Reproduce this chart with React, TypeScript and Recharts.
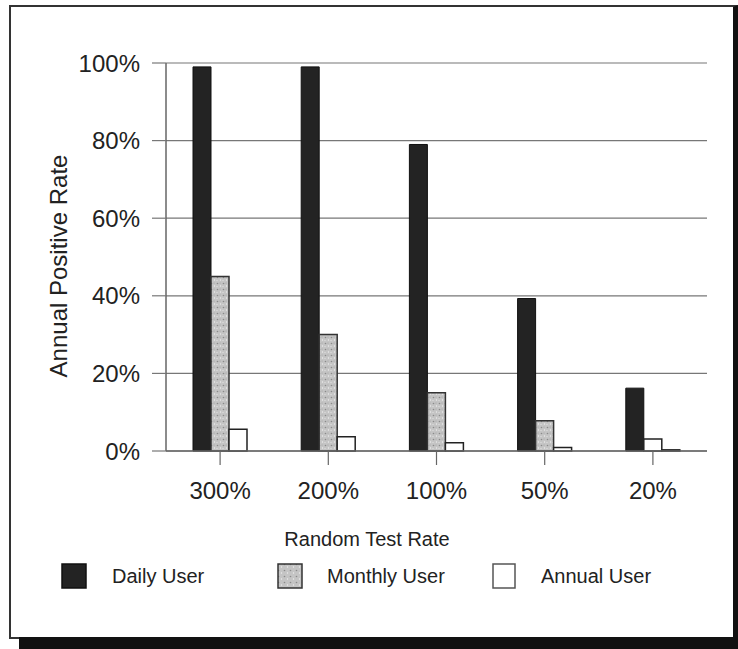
import React from 'react';
import { BarChart, Bar, XAxis, YAxis, CartesianGrid, Cell } from 'recharts';

const categories = ['300%', '200%', '100%', '50%', '20%'];
const dailyUser = [99, 99, 79, 39.3, 16.2];
const monthlyUser = [45, 30, 15, 7.8, 3.1];
const annualUser = [5.6, 3.7, 2.1, 0.9, 0.3];
const yTicks = [0, 20, 40, 60, 80, 100];
const seriesNames = ['Daily User', 'Monthly User', 'Annual User'];

const data = categories.map((c, i) => ({
  name: c,
  daily: dailyUser[i],
  monthly: monthlyUser[i],
  annual: annualUser[i],
}));

const FONT = '"Liberation Sans", Arial, Helvetica, sans-serif';
const TEXT = '#222';

const legendSwatches = [
  { fill: '#232323', stroke: '#111', pattern: false },
  { fill: '#bdbdbd', stroke: '#333', pattern: true },
  { fill: '#ffffff', stroke: '#555', pattern: false },
];
const legendX = [61, 277, 492];
const legendTextX = [112, 327, 541];

export default function App() {
  return (
    <div style={{ position: 'absolute', left: 0, top: 0, width: 738, height: 649, background: '#fff', overflow: 'hidden', fontFamily: FONT }}>
      {/* frame */}
      <div style={{ position: 'absolute', left: 9, top: 5, width: 722, height: 630, borderTop: '2px solid #333', borderLeft: '2px solid #333', borderBottom: '2px solid #333', borderRight: '5px solid #111' }} />
      <div style={{ position: 'absolute', left: 19, top: 637, width: 719, height: 12, background: '#111' }} />
      <div style={{ position: 'absolute', left: 0, top: 0 }}>
        <BarChart
          width={738}
          height={649}
          data={data}
          margin={{ top: 63, right: 31, left: 66, bottom: 158 }}
          barGap={0}
          barCategoryGap="25%"
        >
          <defs>
            <pattern id="speckle" width="6" height="6" patternUnits="userSpaceOnUse">
              <rect width="6" height="6" fill="#c4c4c4" />
              <circle cx="1.5" cy="1.5" r="0.8" fill="#8a8a8a" />
              <circle cx="4.5" cy="4" r="0.7" fill="#eeeeee" />
              <circle cx="4" cy="1" r="0.5" fill="#999" />
              <circle cx="1" cy="4.5" r="0.6" fill="#e6e6e6" />
            </pattern>
          </defs>
          <CartesianGrid horizontal vertical={false} stroke="#777" strokeWidth={1.2} />
          <XAxis
            dataKey="name"
            height={40}
            axisLine={{ stroke: '#666', strokeWidth: 1.5 }}
            tickLine={{ stroke: '#666', strokeWidth: 1.2 }}
            tickSize={14}
            tickMargin={17}
            tick={{ fill: TEXT, fontSize: 24, fontFamily: FONT }}
            label={{
              content: () => (
                <text x={367} y={546} textAnchor="middle" fontSize={20} fill={TEXT} fontFamily={FONT}>
                  Random Test Rate
                </text>
              ),
            }}
          />
          <YAxis
            width={100}
            domain={[0, 100]}
            ticks={yTicks}
            interval={0}
            tickFormatter={(v: number) => `${v}%`}
            axisLine={{ stroke: '#666', strokeWidth: 1.5 }}
            tickLine={{ stroke: '#777', strokeWidth: 1.2 }}
            tickSize={14}
            tickMargin={12}
            tick={{ fill: TEXT, fontSize: 24, fontFamily: FONT }}
            label={{
              content: () => (
                <text
                  x={58}
                  y={266}
                  transform="rotate(-90 58 266)"
                  textAnchor="middle"
                  dominantBaseline="central"
                  fontSize={24}
                  fill={TEXT}
                  fontFamily={FONT}
                >
                  Annual Positive Rate
                </text>
              ),
            }}
          />
          <Bar dataKey="daily" name={seriesNames[0]} barSize={18} fill="#232323" stroke="#111" strokeWidth={1} isAnimationActive={false} />
          <Bar dataKey="monthly" name={seriesNames[1]} barSize={18} fill="url(#speckle)" stroke="#333" strokeWidth={1.5} isAnimationActive={false}>
            {data.map((d, i) => (
              <Cell key={d.name} fill={i === data.length - 1 ? '#ffffff' : 'url(#speckle)'} stroke={i === data.length - 1 ? '#222' : '#333'} />
            ))}
          </Bar>
          <Bar dataKey="annual" name={seriesNames[2]} barSize={18} fill="#ffffff" stroke="#222" strokeWidth={1.5} isAnimationActive={false} />
        </BarChart>
      </div>
      {/* legend */}
      {seriesNames.map((n, i) => (
        <React.Fragment key={n}>
          <svg style={{ position: 'absolute', left: legendX[i], top: 563 }} width={26} height={26}>
            <defs>
              <pattern id={`lg${i}`} width="6" height="6" patternUnits="userSpaceOnUse">
                <rect width="6" height="6" fill="#c4c4c4" />
                <circle cx="1.5" cy="1.5" r="0.8" fill="#8a8a8a" />
                <circle cx="4.5" cy="4" r="0.7" fill="#eeeeee" />
              </pattern>
            </defs>
            <rect
              x={1}
              y={1}
              width={i === 2 ? 22 : 24}
              height={24}
              fill={legendSwatches[i].pattern ? `url(#lg${i})` : legendSwatches[i].fill}
              stroke={legendSwatches[i].stroke}
              strokeWidth={1.5}
            />
          </svg>
          <div style={{ position: 'absolute', left: legendTextX[i], top: 564, fontSize: 20, lineHeight: '24px', color: TEXT, whiteSpace: 'nowrap' }}>{n}</div>
        </React.Fragment>
      ))}
    </div>
  );
}
